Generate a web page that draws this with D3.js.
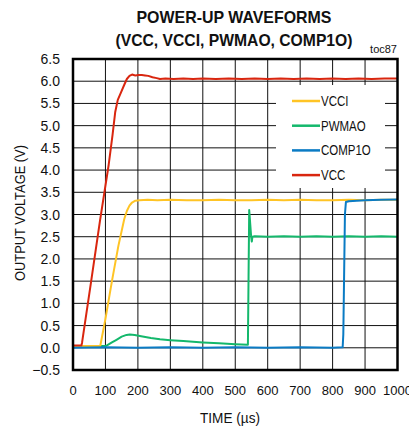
<!DOCTYPE html>
<html><head><meta charset="utf-8">
<script src="https://cdn.jsdelivr.net/npm/d3@7"></script>
<style>body{margin:0;background:#fff}svg{display:block}text{font-family:"Liberation Sans",Arial,sans-serif;fill:#111}</style>
</head><body><svg id="c" width="409" height="429"></svg>
<script>
const titleLines = ["POWER-UP WAVEFORMS", "(VCC, VCCI, PWMAO, COMP1O)"];
const xTicks = [0,100,200,300,400,500,600,700,800,900,1000];
const yTicks = [-0.5,0,0.5,1,1.5,2,2.5,3,3.5,4,4.5,5,5.5,6,6.5];
const seriesNames = ["VCCI","PWMAO","COMP1O","VCC"];
const seriesColors = {VCCI:"#ffc425", PWMAO:"#14b86c", COMP1O:"#0a7bc4", VCC:"#d9260f"};
const vcc = [[0,0.05],[26,0.05],[28,0.12],[55,1.45],[83,2.85],[110,4.12],[122,4.8],[130,5.3],[138,5.58],[148,5.75],[158,5.92],[166,6.05],[174,6.12],[182,6.15],[192,6.13],[202,6.14],[212,6.14],[222,6.13],[232,6.12],[245,6.09],[258,6.07],[268,6.05],[285,6.06],[310,6.05],[340,6.06],[370,6.05],[400,6.06],[440,6.05],[480,6.06],[520,6.05],[560,6.06],[600,6.05],[640,6.06],[680,6.05],[720,6.06],[760,6.05],[800,6.06],[840,6.05],[880,6.06],[920,6.05],[960,6.06],[1000,6.06]];
const vcci = [[0,0.04],[84,0.04],[86,0.12],[100,0.65],[120,1.5],[140,2.3],[158,2.9],[166,3.08],[174,3.2],[182,3.27],[192,3.31],[205,3.32],[230,3.33],[260,3.32],[300,3.33],[350,3.32],[400,3.32],[450,3.33],[500,3.32],[550,3.32],[600,3.33],[650,3.32],[700,3.33],[750,3.32],[800,3.32],[850,3.33],[900,3.32],[950,3.33],[1000,3.33]];
const pwmao = [[0,0.04],[100,0.04],[106,0.06],[120,0.12],[134,0.18],[150,0.25],[165,0.29],[175,0.30],[190,0.29],[210,0.26],[240,0.22],[268,0.19],[300,0.17],[340,0.15],[400,0.12],[450,0.1],[500,0.08],[539,0.07],[541,1.6],[543,3.1],[546,2.8],[549,2.5],[551,2.39],[553,2.5],[560,2.51],[600,2.5],[650,2.51],[700,2.5],[750,2.51],[800,2.5],[850,2.51],[900,2.5],[950,2.51],[1000,2.5]];
const comp1o = [[0,0.0],[100,0.01],[200,0.0],[300,0.01],[400,0.0],[500,0.01],[600,0.0],[700,0.01],[800,0.0],[831,0.01],[833,0.3],[838,3.0],[841,3.28],[850,3.3],[900,3.32],[950,3.33],[1000,3.34]];

const svg = d3.select("#c");
const x = d3.scaleLinear().domain([0,1000]).range([73,397.5]);
const y = d3.scaleLinear().domain([-0.5,6.5]).range([370,59]);

// grid
const g = svg.append("g");
g.selectAll(".vg").data(xTicks.slice(1,-1)).enter().append("line")
 .attr("x1",d=>x(d)).attr("x2",d=>x(d)).attr("y1",y(6.5)).attr("y2",y(-0.5))
 .attr("stroke","#111").attr("stroke-width",1);
g.selectAll(".hg").data(yTicks.slice(1,-1)).enter().append("line")
 .attr("y1",d=>y(d)).attr("y2",d=>y(d)).attr("x1",x(0)).attr("x2",x(1000))
 .attr("stroke","#111").attr("stroke-width",1);

// legend background
const legX = 276, legY = 85;
svg.append("rect").attr("x",legX).attr("y",legY).attr("width",109).attr("height",103).attr("fill","#fff");

// lines
const line = d3.line().x(d=>x(d[0])).y(d=>y(d[1]));
[[pwmao,"PWMAO"],[vcci,"VCCI"],[vcc,"VCC"],[comp1o,"COMP1O"]].forEach(([data,name])=>{
  svg.append("path").datum(data).attr("d",line).attr("fill","none")
    .attr("stroke",seriesColors[name]).attr("stroke-width",2).attr("stroke-linejoin","round");
});

// frame
svg.append("rect").attr("x",x(0)).attr("y",y(6.5)).attr("width",x(1000)-x(0)).attr("height",y(-0.5)-y(6.5))
 .attr("fill","none").attr("stroke","#000").attr("stroke-width",2.5);

// legend
const leg = svg.append("g");
seriesNames.forEach((n,i)=>{
  const cy = 101 + i*24.7;
  leg.append("line").attr("x1",292).attr("x2",320).attr("y1",cy).attr("y2",cy)
    .attr("stroke",seriesColors[n]).attr("stroke-width",2.5);
  const t = leg.append("text").attr("x",321).attr("y",cy+5).attr("font-size",14).text(n);
  const w = t.node().getComputedTextLength();
  t.attr("textLength",w*0.82).attr("lengthAdjust","spacingAndGlyphs");
});

// axes labels
svg.selectAll(".xt").data(xTicks).enter().append("text")
 .attr("x",d=>x(d)).attr("y",395).attr("text-anchor","middle").attr("font-size",13).text(d=>d);
svg.selectAll(".yt").data(yTicks).enter().append("text")
 .attr("x",60).attr("y",d=>y(d)+5).attr("text-anchor","end").attr("font-size",14).text(d=>d3.format(".1f")(d));

// titles
const tl = [[titleLines[0],22.7,195],[titleLines[1],46,237]];
tl.forEach(([s,yy,len])=>{
  svg.append("text").attr("x",234).attr("y",yy).attr("text-anchor","middle").attr("font-size",17)
   .attr("font-weight","bold").attr("textLength",len).attr("lengthAdjust","spacingAndGlyphs").text(s);
});
svg.append("text").attr("x",397).attr("y",53).attr("text-anchor","end").attr("font-size",11).text("toc87");
svg.append("text").attr("x",230).attr("y",423).attr("text-anchor","middle").attr("font-size",15)
 .attr("textLength",60).attr("lengthAdjust","spacingAndGlyphs").text("TIME (µs)");
svg.append("text").attr("transform","translate(25,213) rotate(-90)").attr("text-anchor","middle").attr("font-size",15)
 .attr("textLength",136).attr("lengthAdjust","spacingAndGlyphs").text("OUTPUT VOLTAGE (V)");
</script></body></html>
